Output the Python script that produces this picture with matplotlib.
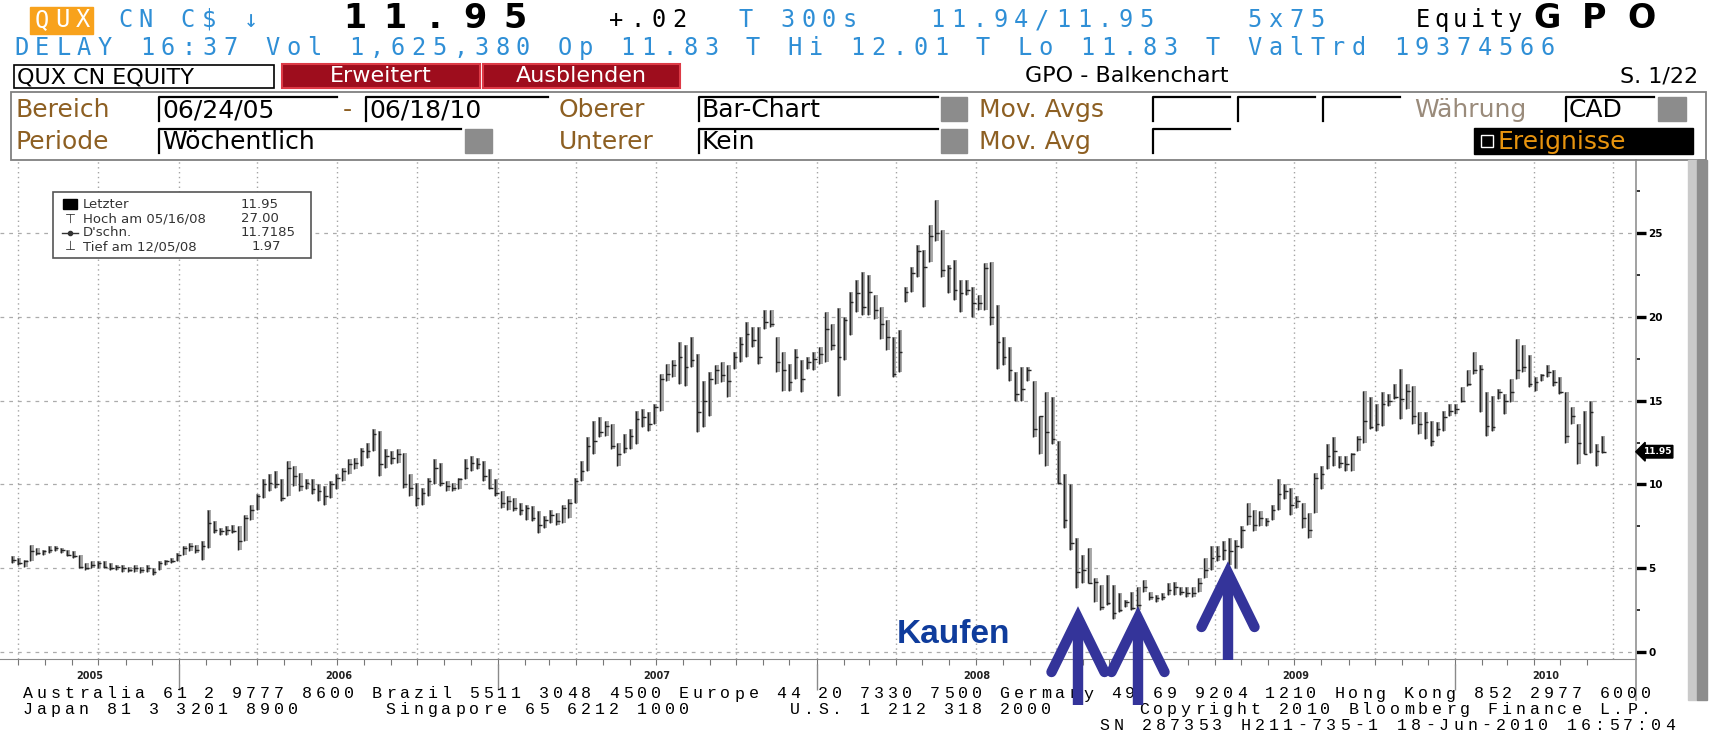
import numpy as np
import pandas as pd
import matplotlib
matplotlib.use("Agg")
import matplotlib.pyplot as plt
from matplotlib.patches import Rectangle

W, H = 1713, 733

# ---------------- data: weekly bars QUX CN, 06/24/05 - 06/18/10 ----------------
high = [
    5.7, 5.6, 5.5, 6.4, 6.2, 6.1, 6.3, 6.3, 6.2, 6.1, 6.0, 5.8, 5.3, 5.4,
    5.4, 5.4, 5.3, 5.2, 5.2, 5.1, 5.2, 5.1, 5.2, 5.0, 5.4, 5.5, 5.6,
    5.9, 6.3, 6.5, 6.4, 6.6, 8.5, 7.8, 7.4, 7.5, 7.6, 7.5, 8.2, 8.8,
    9.4, 10.3, 10.6, 10.8, 10.3, 11.4, 11.1, 10.7, 10.3, 10.3, 10.0, 9.9, 10.2,
    10.6, 11.0, 11.5, 11.6, 12.2, 12.5, 13.3, 13.2, 12.1, 12.0, 12.1, 11.9, 10.6,
    10.1, 9.8, 10.4, 11.5, 11.3, 10.2, 10.1, 10.4, 11.5, 11.7, 11.6, 11.4, 10.9,
    10.3, 9.6, 9.3, 9.2, 8.9, 8.8, 8.7, 8.4, 8.1, 8.5, 8.3, 8.8, 9.1,
    10.4, 11.4, 12.8, 13.8, 14.0, 13.8, 13.6, 12.5, 13.0, 13.3, 14.4, 14.5, 14.3,
    14.8, 16.6, 17.2, 17.4, 18.5, 18.3, 18.8, 17.8, 16.2, 16.7, 17.1, 17.3, 17.1,
    17.9, 18.8, 19.7, 19.4, 19.4, 20.4, 20.4, 18.8, 17.9, 17.2, 18.1, 17.4, 17.6,
    17.9, 18.2, 20.3, 19.6, 20.5, 20.0, 21.5, 22.2, 22.7, 22.5, 21.3, 20.6, 19.8, 18.8, 19.2,
    21.8, 23.0, 24.3, 24.0, 25.5, 27.0, 25.2, 23.1, 23.4, 22.2, 22.2, 21.8, 21.3, 23.2, 23.3,
    20.7, 18.8, 18.2, 16.7, 17.0, 17.0, 16.2, 14.1, 15.5, 15.2, 12.6, 10.6, 10.0, 6.8, 5.8,
    6.2, 4.4, 4.0, 4.6, 4.0, 3.5, 3.1, 3.6, 3.9,
    4.3, 3.6, 3.4, 3.5, 4.1, 4.2, 3.9, 3.9, 3.9, 4.4, 5.6, 6.3, 6.3, 6.6, 6.8, 6.7,
    7.5, 8.9, 8.5, 8.4, 8.0, 8.8, 10.3,
    10.0, 9.8, 9.3, 8.9, 8.3, 10.7, 11.1, 12.4, 12.8, 11.7, 11.7, 11.9, 12.9,
    15.6, 15.2, 14.8, 15.5, 15.4, 16.0, 16.9, 16.0, 15.9, 14.3, 14.3, 13.8, 13.7,
    14.4, 14.8, 14.8, 15.8, 16.8, 17.9, 17.1, 15.5, 15.3, 15.7, 15.4, 16.3, 18.7,
    18.3, 17.7, 16.4, 16.6, 17.1, 16.8, 16.4, 15.5, 14.6, 13.6, 14.4, 15.0, 12.4, 12.9,
]
low = [
    5.3, 5.2, 5.1, 5.4, 5.8, 5.8, 5.9, 6.0, 5.9, 5.7, 5.6, 5.0, 4.9, 5.0,
    5.0, 5.0, 4.9, 4.9, 4.8, 4.8, 4.8, 4.7, 4.8, 4.6, 4.9, 5.2, 5.3,
    5.4, 5.8, 6.0, 5.9, 5.5, 6.2, 7.1, 7.0, 7.0, 7.1, 6.1, 6.6, 7.9,
    8.5, 9.2, 9.6, 9.8, 9.0, 9.3, 9.9, 9.6, 9.7, 9.4, 9.0, 8.8, 9.2,
    9.7, 10.2, 10.6, 10.9, 11.1, 11.6, 12.0, 10.5, 11.0, 11.2, 11.3, 9.8, 9.3,
    8.7, 8.8, 9.3, 10.0, 9.9, 9.6, 9.6, 9.7, 10.3, 10.8, 10.9, 10.2, 9.7,
    9.3, 8.6, 8.5, 8.4, 8.2, 7.9, 7.8, 7.1, 7.4, 7.7, 7.6, 7.7, 8.0,
    8.9, 10.2, 10.8, 11.8, 12.8, 12.9, 12.1, 11.1, 11.9, 12.1, 12.4, 13.4, 13.2,
    13.6, 14.4, 16.2, 16.4, 16.0, 15.9, 17.0, 13.1, 13.4, 14.1, 16.0, 16.1, 15.2,
    16.9, 17.3, 17.6, 18.2, 17.2, 19.3, 19.4, 16.7, 15.6, 15.6, 16.3, 15.5, 16.9,
    16.8, 17.2, 17.3, 18.0, 15.3, 17.4, 18.9, 20.3, 20.1, 20.1, 19.9, 18.7, 18.0, 16.4, 16.7,
    20.9, 21.5, 22.4, 20.6, 23.3, 24.5, 22.4, 21.4, 21.0, 20.3, 21.3, 20.0, 20.4, 20.4, 19.5,
    16.9, 17.1, 16.2, 15.0, 15.0, 16.2, 12.8, 11.8, 11.1, 12.4, 10.0, 7.4, 6.1, 3.8, 4.1,
    4.1, 3.0, 2.5, 2.8, 1.97, 2.4, 2.7, 2.5, 2.5,
    3.6, 3.1, 3.0, 3.1, 3.4, 3.4, 3.4, 3.3, 3.3, 3.6, 4.4, 4.9, 5.4, 5.5, 5.2, 5.0,
    6.2, 7.6, 7.2, 7.5, 7.5, 7.9, 8.5,
    9.1, 8.2, 8.6, 7.4, 6.8, 8.3, 9.7, 10.9, 11.1, 11.0, 10.8, 10.8, 12.0,
    12.5, 13.3, 13.2, 13.5, 14.7, 15.1, 13.9, 14.5, 13.6, 13.0, 12.7, 12.3, 12.9,
    13.2, 14.1, 14.2, 14.9, 15.9, 16.6, 14.3, 12.9, 13.2, 15.1, 14.2, 14.9, 16.3,
    16.7, 15.8, 15.6, 16.2, 16.4, 15.9, 15.4, 12.5, 13.6, 11.2, 11.8, 11.9, 11.1, 11.9,
]
close = [
    5.5, 5.3, 5.4, 6.0, 5.9, 6.0, 6.1, 6.2, 6.1, 5.8, 5.7, 5.1, 5.0, 5.2,
    5.3, 5.1, 5.0, 5.1, 5.0, 4.9, 5.0, 4.9, 5.0, 4.8, 5.3, 5.4, 5.4,
    5.8, 6.2, 6.3, 6.1, 6.3, 7.7, 7.3, 7.2, 7.3, 7.2, 6.6, 8.0, 8.5,
    9.3, 10.0, 10.1, 10.0, 9.2, 11.0, 10.5, 9.9, 10.1, 9.7, 9.6, 9.3, 10.0,
    10.4, 10.8, 11.2, 11.3, 12.0, 12.0, 13.0, 11.2, 11.7, 11.6, 11.8, 10.0, 9.8,
    9.2, 9.5, 10.2, 11.0, 10.1, 9.9, 9.8, 10.3, 11.0, 11.3, 11.2, 10.5, 9.8,
    9.5, 8.9, 9.0, 8.6, 8.5, 8.6, 8.0, 7.6, 7.9, 8.2, 7.8, 8.6, 8.9,
    10.2, 10.8, 12.3, 12.6, 13.1, 13.5, 12.3, 11.8, 12.2, 12.9, 13.9, 14.0, 13.6,
    14.6, 16.3, 16.6, 17.1, 17.6, 17.0, 17.4, 14.3, 15.0, 16.3, 16.8, 16.5, 16.2,
    17.6, 18.4, 19.0, 18.6, 17.6, 19.7, 19.6, 17.3, 16.8, 16.1, 17.6, 16.3, 17.3,
    17.5, 17.8, 19.3, 18.3, 17.6, 19.8, 20.9, 21.4, 20.6, 21.5, 20.4, 19.6, 18.8, 16.6, 17.9,
    21.5, 22.6, 23.9, 23.0, 24.8, 25.0, 22.8, 22.9, 21.6, 21.4, 21.6, 20.8, 20.8, 22.9, 20.0,
    18.5, 17.6, 16.8, 15.4, 15.7, 16.8, 13.3, 14.1, 13.1, 12.7, 10.1, 7.9, 6.5, 4.8, 4.9,
    4.1, 4.2, 2.7, 2.9, 2.3, 2.5, 3.0, 2.6, 2.8,
    3.9, 3.3, 3.2, 3.3, 3.7, 3.9, 3.6, 3.5, 3.5, 4.1, 4.9, 5.6, 5.7, 6.1, 6.0, 6.3,
    7.3, 8.1, 7.6, 8.0, 7.8, 8.5, 9.4,
    9.6, 8.8, 9.0, 8.0, 7.3, 10.4, 10.6, 11.7, 12.0, 11.3, 11.2, 11.8, 12.7,
    13.8, 13.4, 13.6, 14.8, 15.0, 15.2, 15.1, 15.6, 14.1, 13.6, 13.7, 12.6, 13.3,
    14.0, 14.4, 14.5, 15.0, 16.0, 16.8, 16.9, 13.5, 13.4, 15.5, 15.0, 15.5, 16.8,
    17.0, 16.0, 16.1, 16.5, 16.7, 16.1, 15.5, 12.9, 14.1, 12.5, 11.8, 14.3, 12.0, 11.95,
]
assert len(high) == len(low) == len(close)

years = [2005, 2006, 2007, 2008, 2009, 2010]
y_ticks = [0, 5, 10, 15, 20, 25]
last_px = 11.95
legend_rows = [("Letzter", "11.95"), ("Hoch am 05/16/08", "27.00"),
               ("D'schn.", "11.7185"), ("Tief am 12/05/08", "1.97")]

dates = pd.date_range("2005-06-24", periods=len(close), freq="W-FRI")
t0 = dates[0]


def wk(d):
    return (pd.Timestamp(d) - t0).days / 7.0


BLUE = "#2f8fd6"
BROWN = "#8d5f22"
NAVY = "#34349a"

fig = plt.figure(figsize=(W / 100, H / 100), dpi=100)
fig.patch.set_facecolor("white")

# ---------------- chart ----------------
px_wk, x0_px, right_px, top_px, bot_px = 6.115, 12, 1636, 160, 659
ax = fig.add_axes([0, 1 - bot_px / H, right_px / W, (bot_px - top_px) / H])
ax.set_xlim(-x0_px / px_wk, (right_px - x0_px) / px_wk)
ax.set_ylim(-0.42, 29.36)
ax.set_facecolor("white")

for q in pd.date_range("2005-07-01", "2010-07-01", freq="QS"):
    ax.axvline(wk(q), color="#a4a4a4", lw=1.0, ls=(0, (1, 2.5)), zorder=0)
for yv in y_ticks:
    ax.axhline(yv, color="#ababab", lw=0.9, ls=(0, (3, 4)), zorder=0)

x = np.arange(len(close))
ax.vlines(x + 0.22, low, high, color="#a6a6a6", lw=2.8, zorder=2)
ax.vlines(x, low, high, color="#262626", lw=1.05, zorder=3)
ax.hlines(close, x, x + 0.6, color="#262626", lw=1.0, zorder=3)

for s in ["top", "left"]:
    ax.spines[s].set_visible(False)
ax.spines["right"].set_color("#9a9a9a")
ax.spines["right"].set_linewidth(1.3)
ax.spines["bottom"].set_color("#8a8a8a")

ax.yaxis.tick_right()
ax.set_yticks(y_ticks)
ax.set_yticklabels([str(v) for v in y_ticks], fontweight="bold")
ax.set_yticks([2.5, 7.5, 12.5, 17.5, 22.5, 27.5], minor=True)
ax.tick_params(axis="y", which="major", length=7, width=2.4, color="black",
               labelsize=7.5, pad=2)
ax.tick_params(axis="y", which="minor", length=3, width=1.4, color="#333")
ax.set_xticks([])
months = pd.date_range("2005-07-01", "2010-06-01", freq="MS")
ax.set_xticks([wk(m) for m in months], minor=True)
ax.tick_params(axis="x", which="minor", length=4, width=0.8, color="#777")

xl = ax.get_xlim()
for yr in years:
    a = max(wk(f"{yr}-01-01"), xl[0])
    b = min(wk(f"{yr + 1}-01-01"), xl[1])
    ax.text((a + b) / 2, -0.034, str(yr), transform=ax.get_xaxis_transform(),
            ha="center", va="center", fontsize=7, fontweight="bold", color="#222")
    if yr > years[0]:
        ax.vlines(wk(f"{yr}-01-01"), -0.01, -0.062, transform=ax.get_xaxis_transform(),
                  color="#8a8a8a", lw=1, clip_on=False)

ax.text(1.004, last_px, f"{last_px:.2f}", transform=ax.get_yaxis_transform(),
        ha="left", va="center", color="white", fontsize=6.5, fontweight="bold",
        bbox=dict(boxstyle="larrow,pad=0.2", fc="black", ec="black"))

# ---------------- overlay (pixel coordinates) ----------------
ov = fig.add_axes([0, 0, 1, 1], zorder=5)
ov.set_xlim(0, W)
ov.set_ylim(H, 0)
ov.axis("off")
ov.patch.set_alpha(0)


def mono(x0, y, s, pitch, **kw):
    for i, ch in enumerate(s):
        if ch != " ":
            ov.text(x0 + (i + 0.5) * pitch, y, ch, ha="center", va="center", **kw)


MONO = dict(family="DejaVu Sans Mono", fontsize=17)
P = 20.9
# row 1
ov.add_patch(Rectangle((30, 7), 63, 27, color="#f8a21c"))
mono(31, 20, "QUX", P, color="white", **MONO)
mono(31 + 4 * P, 20, "CN C$ ↓", P, color=BLUE, **MONO)
mono(335, 19, "11.95", 40, color="black", family="DejaVu Sans", fontsize=24, fontweight="bold")
mono(606, 20, "+.02", P, color="black", **MONO)
mono(735, 20, "T 300s", P, color=BLUE, **MONO)
mono(927, 20, "11.94/11.95", P, color=BLUE, **MONO)
mono(1244, 20, "5x75", P, color=BLUE, **MONO)
mono(1414, 20, "Equity", 18.3, color="black", **MONO)
mono(1524, 19, "GPO", 47, color="black", family="DejaVu Sans", fontsize=24, fontweight="bold")
# row 2
mono(11, 48, "DELAY 16:37 Vol 1,625,380 Op 11.83 T Hi 12.01 T Lo 11.83 T ValTrd 19374566",
     P, color=BLUE, **MONO)

# row 3
SANS = dict(family="DejaVu Sans")
ov.add_patch(Rectangle((14, 65), 260, 23, fc="white", ec="black", lw=1.2))
ov.text(17, 77, "QUX CN EQUITY", ha="left", va="center", fontsize=16, color="black", **SANS)
for x0b, x1b, lab in [(282, 480, "Erweitert"), (483, 680, "Ausblenden")]:
    ov.add_patch(Rectangle((x0b, 64), x1b - x0b, 24, fc="#9e0d1d", ec="#dd3a46", lw=1.5))
    ov.text((x0b + x1b) / 2, 76, lab, ha="center", va="center", fontsize=16, color="white", **SANS)
ov.text(1127, 76, "GPO - Balkenchart", ha="center", va="center", fontsize=16, color="black", **SANS)
ov.text(1698, 76, "S. 1/22", ha="right", va="center", fontsize=16, color="black", **SANS)

# settings panel
ov.add_patch(Rectangle((11, 92), 1695, 68, fc="none", ec="#808080", lw=1.3))


def field(x0f, x1f, y, txt=None):
    ov.add_patch(Rectangle((x0f, y - 12), x1f - x0f, 24, fc="white", ec="none"))
    ov.plot([x0f, x0f, x1f], [y + 12, y - 12, y - 12], color="black", lw=1.6)
    if txt:
        ov.text(x0f + 3, y + 1, txt, ha="left", va="center", fontsize=18, color="black", **SANS)


def graybox(x0g, x1g, y):
    ov.add_patch(Rectangle((x0g, y - 12), x1g - x0g, 24, color="#8c8c8c"))


def label(xl_, y, txt, color=BROWN):
    ov.text(xl_, y + 1, txt, ha="left", va="center", fontsize=18, color=color, **SANS)


r4, r5 = 109, 141
label(16, r4, "Bereich")
field(159, 337, r4, "06/24/05")
label(343, r4, "-")
field(366, 548, r4, "06/18/10")
label(559, r4, "Oberer")
field(699, 938, r4, "Bar-Chart")
graybox(941, 967, r4)
label(979, r4, "Mov. Avgs")
for a_, b_ in [(1153, 1230), (1238, 1315), (1323, 1400)]:
    field(a_, b_, r4)
label(1414, r4, "Währung", color="#9a8b7b")
field(1566, 1654, r4, "CAD")
graybox(1658, 1686, r4)

label(16, r5, "Periode")
field(159, 461, r5, "Wöchentlich")
graybox(465, 492, r5)
label(559, r5, "Unterer")
field(699, 938, r5, "Kein")
graybox(941, 967, r5)
label(979, r5, "Mov. Avg")
field(1153, 1230, r5)
ov.add_patch(Rectangle((1474, r5 - 13), 219, 26, color="black"))
ov.add_patch(Rectangle((1481, r5 - 6), 12, 12, fc="black", ec="white", lw=1))
ov.text(1497, r5 + 1, "Ereignisse", ha="left", va="center", fontsize=18, color="#e8940e", **SANS)

# legend box
ov.add_patch(Rectangle((53, 192), 258, 66, fc="white", ec="#555", lw=1.2))
rows_y = [204, 219, 233, 247]
ov.add_patch(Rectangle((63, 199), 14, 10, color="black"))
ov.text(70, rows_y[1], "⊤", ha="center", va="center", fontsize=9, color="#333")
ov.plot([62, 78], [rows_y[2], rows_y[2]], color="#333", lw=1)
ov.plot([70], [rows_y[2]], marker="o", ms=3, color="#333")
ov.text(70, rows_y[3], "⊥", ha="center", va="center", fontsize=9, color="#333")
for (lab, val), yy in zip(legend_rows, rows_y):
    ov.text(83, yy, lab, ha="left", va="center", fontsize=9.5, color="#333", **SANS)
    xv = 252 if val.index(".") == 1 else 241
    ov.text(xv, yy, val, ha="left", va="center", fontsize=9.5, color="#333", **SANS)

# right side: axis extension and scrollbar
ov.plot([right_px, right_px], [bot_px, 700], color="#9a9a9a", lw=1.3)
ov.add_patch(Rectangle((1688, 160), 9, 540, color="#cacaca"))
ov.add_patch(Rectangle((1697, 160), 10, 540, color="#8d8d8d"))

# footer
MP = 13.95
FOOT = dict(family="Liberation Mono", fontsize=12, color="black")
line_a = "Australia 61 2 9777 8600 Brazil 5511 3048 4500 Europe 44 20 7330 7500 Germany 49 69 9204 1210 Hong Kong 852 2977 6000"
line_b = ("Japan 81 3 3201 8900".ljust(26) + "Singapore 65 6212 1000".ljust(29)
          + "U.S. 1 212 318 2000".ljust(25) + "Copyright 2010 Bloomberg Finance L.P.")
line_c = "SN 287353 H211-735-1 18-Jun-2010 16:57:04"
mono(21, 694, line_a, MP, **FOOT)
mono(21, 709.5, line_b, MP, **FOOT)
mono(1097, 725, line_c, 14.16, **FOOT)

# buy arrows
for xa, tip, wing, bottom in [(1078, 618, 672, 705), (1138, 618, 672, 705), (1228, 573, 627, 660)]:
    ov.plot([xa - 26.5, xa, xa + 26.5], [wing, tip, wing], color=NAVY, lw=7.5,
            solid_capstyle="round", solid_joinstyle="miter", zorder=6)
    ov.plot([xa, xa], [tip + 8, bottom], color=NAVY, lw=7.5, solid_capstyle="butt", zorder=6)
ov.text(897, 643, "Kaufen", ha="left", va="baseline", fontsize=24, fontweight="bold",
        family="Liberation Sans", color="#0f3c9c", zorder=6)

fig.savefig("out.png", dpi=100, facecolor="white")
